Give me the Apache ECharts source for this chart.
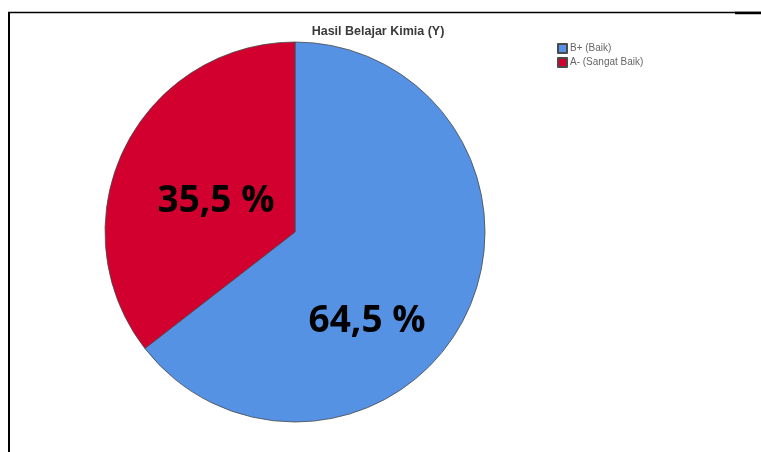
<!DOCTYPE html>
<html>
<head>
<meta charset="utf-8">
<script src="https://cdn.jsdelivr.net/npm/echarts@6/dist/echarts.min.js"></script>
<style>html,body{margin:0;padding:0;background:#fff;}#c{width:761px;height:452px;}</style>
</head>
<body>
<div id="c"></div>
<script>
var categories = ['B+ (Baik)', 'A- (Sangat Baik)'];
var values = [64.5, 35.5];
var colors = ['#5592E3', '#D2002E'];
var titleText = 'Hasil Belajar Kimia (Y)';

var labelShift = [[-16, 46], [9, 13]];

var chart = echarts.init(document.getElementById('c'), null, {renderer: 'canvas'});
chart.setOption({
  animation: false,
  backgroundColor: '#fff',
  title: {
    text: titleText, left: 378, top: 25, textAlign: 'center', padding: 0,
    textStyle: {fontFamily: 'Liberation Sans', fontSize: 12.5, fontWeight: 'bold', color: '#3a3a3a'}
  },
  legend: {
    orient: 'vertical', left: 557, top: 43, itemWidth: 9, itemHeight: 9, itemGap: 3, padding: 0,
    icon: 'rect',
    textStyle: {fontFamily: 'Liberation Sans', fontSize: 10, lineHeight: 11, color: '#666', padding: [0, 0, 0, -2]},
    data: categories
  },
  graphic: [
    {type: 'line', shape: {x1: 8, y1: 12.5, x2: 761, y2: 12.5}, style: {stroke: '#000', lineWidth: 1.5}},
    {type: 'line', shape: {x1: 735, y1: 13, x2: 761, y2: 13}, style: {stroke: '#000', lineWidth: 2.5}},
    {type: 'line', shape: {x1: 9, y1: 12, x2: 9, y2: 452}, style: {stroke: '#000', lineWidth: 2}}
  ],
  series: [{
    type: 'pie',
    center: [295, 232],
    radius: [0, 190],
    startAngle: 90,
    clockwise: true,
    itemStyle: {borderColor: '#4a4a4a', borderWidth: 0.8},
    label: {
      show: true, position: 'inside',
      fontFamily: 'Open Sans', fontSize: 37, fontWeight: 'bold', color: '#000',
      formatter: function (p) { return String(p.value).replace('.', ',') + ' %'; }
    },
    labelLine: {show: false},
    labelLayout: function (p) { return {dx: labelShift[p.dataIndex][0], dy: labelShift[p.dataIndex][1]}; },
    data: categories.map(function (c, i) { return {name: c, value: values[i], itemStyle: {color: colors[i]}}; })
  }]
});
</script>
</body>
</html>
